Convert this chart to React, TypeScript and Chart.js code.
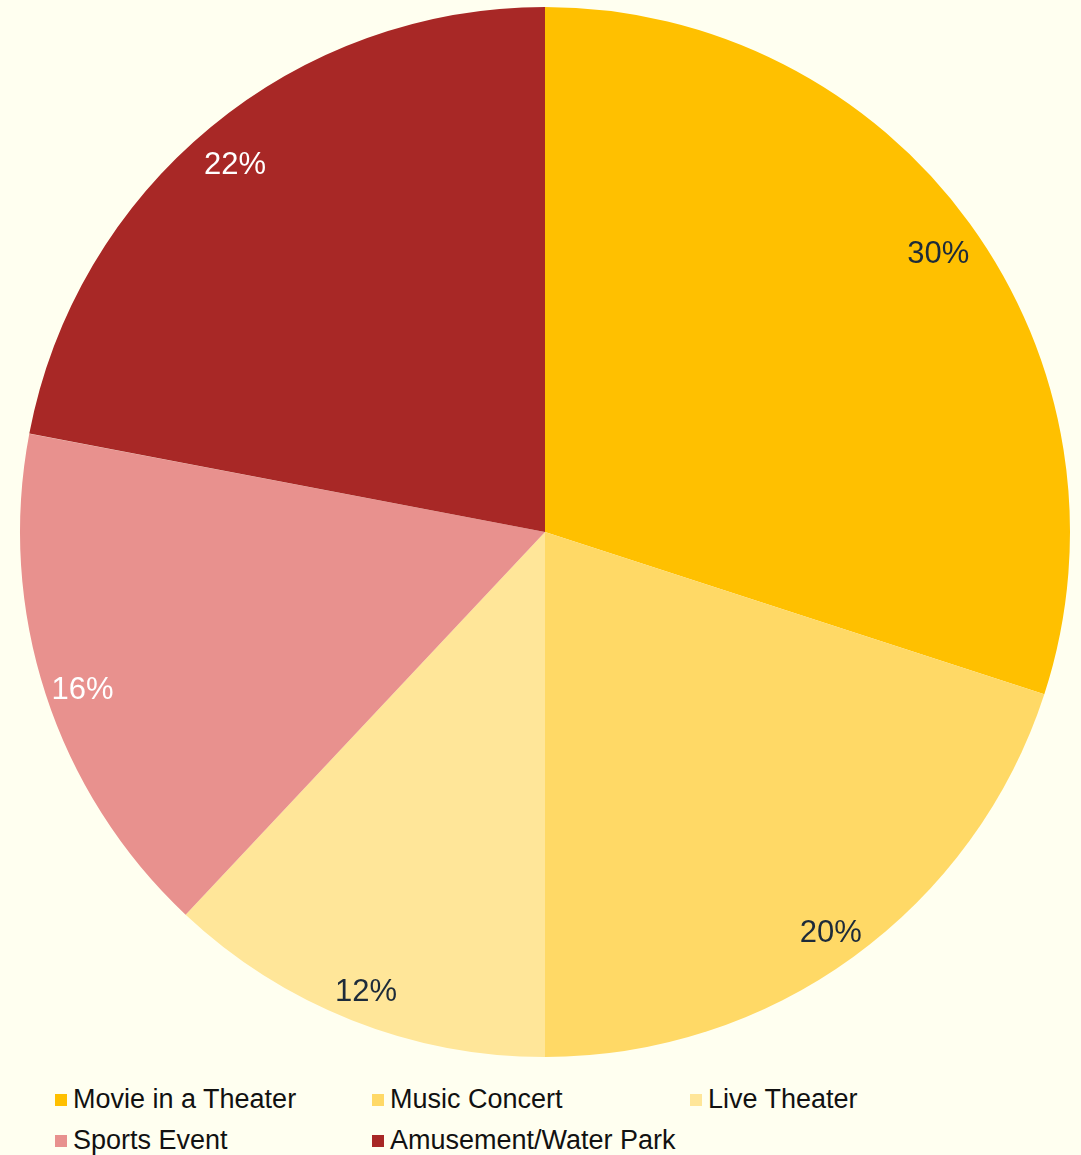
import React, { useEffect, useRef } from "react";
import { Chart, registerables } from "chart.js";

Chart.register(...registerables);

const categories = ["Movie in a Theater", "Music Concert", "Live Theater", "Sports Event", "Amusement/Water Park"];
const shares = [30, 20, 12, 16, 22];
const sliceColors = ["#FFC000", "#FFD966", "#FFE699", "#E8918E", "#A82826"];
const labelColors = ["#1d2b3a", "#1d2b3a", "#1d2b3a", "#ffffff", "#ffffff"];

const BG = "#FFFFF0";

const labelPlugin = {
  id: "sliceLabels",
  afterDatasetsDraw(chart: any) {
    const ctx = chart.ctx;
    const meta = chart.getDatasetMeta(0);
    ctx.save();
    ctx.font = "31px 'Liberation Sans', Arial, sans-serif";
    ctx.textAlign = "center";
    ctx.textBaseline = "middle";
    meta.data.forEach((arc: any, i: number) => {
      const { x, y, startAngle, endAngle, outerRadius } = arc.getProps(
        ["x", "y", "startAngle", "endAngle", "outerRadius"],
        true
      );
      const mid = (startAngle + endAngle) / 2;
      const r = outerRadius * 0.926;
      ctx.fillStyle = labelColors[i];
      ctx.fillText(shares[i] + "%", x + Math.cos(mid) * r, y + Math.sin(mid) * r + 8);
    });
    ctx.restore();
  },
};

export default function App() {
  const canvasRef = useRef<HTMLCanvasElement | null>(null);

  useEffect(() => {
    document.body.style.margin = "0";
    document.body.style.background = BG;
    const chart = new Chart(canvasRef.current as HTMLCanvasElement, {
      type: "pie",
      data: {
        labels: categories,
        datasets: [
          {
            data: shares,
            backgroundColor: sliceColors,
            borderWidth: 0,
          },
        ],
      },
      options: {
        responsive: false,
        animation: false,
        layout: { padding: { left: 20, right: 11, top: 7, bottom: 7 } },
        plugins: {
          legend: { display: false },
          tooltip: { enabled: false },
        },
      },
      plugins: [labelPlugin],
    });
    return () => chart.destroy();
  }, []);

  return (
    <div
      style={{
        position: "relative",
        width: 1081,
        height: 1155,
        background: BG,
        overflow: "hidden",
      }}
    >
      <canvas
        ref={canvasRef}
        width={1081}
        height={1064}
        style={{ position: "absolute", left: 0, top: 0, width: 1081, height: 1064 }}
      />
      <div
        style={{
          position: "absolute",
          left: 55,
          top: 1079,
          display: "grid",
          gridTemplateColumns: "317px 318px 317px",
          gridAutoRows: "41px",
          fontFamily: "'Liberation Sans', Arial, sans-serif",
          fontSize: 27,
          color: "#111",
        }}
      >
        {categories.map((c, i) => (
          <div key={c} style={{ display: "flex", alignItems: "center", whiteSpace: "nowrap" }}>
            <span
              style={{
                display: "inline-block",
                width: 12,
                height: 12,
                background: sliceColors[i],
                marginRight: 6,
                flex: "none",
              }}
            />
            <span>{c}</span>
          </div>
        ))}
      </div>
    </div>
  );
}
